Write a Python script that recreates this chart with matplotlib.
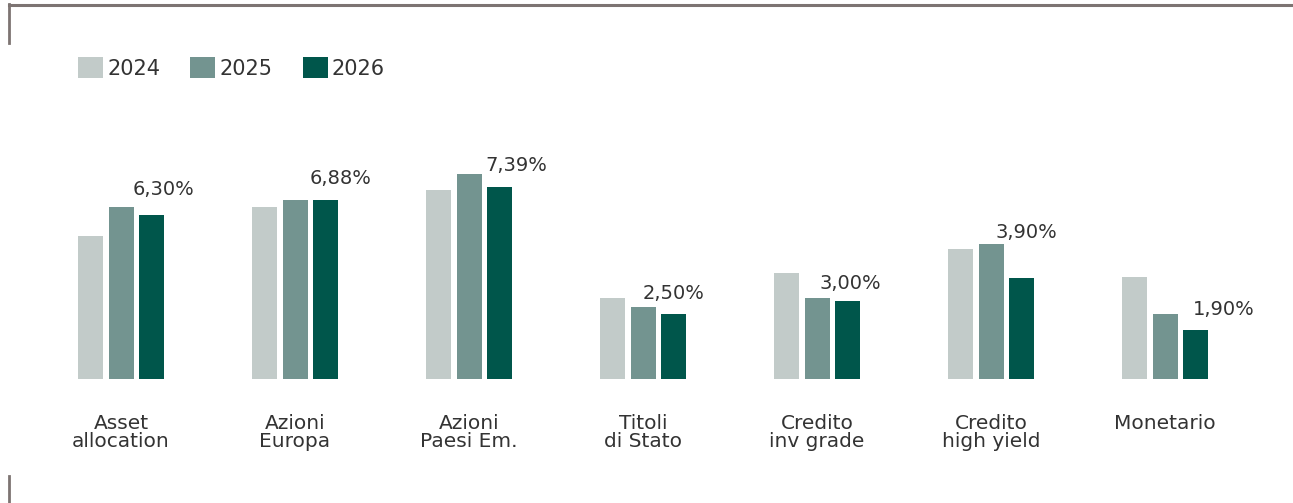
import matplotlib.pyplot as plt
from matplotlib.patches import Patch
from matplotlib.lines import Line2D

categories = ['Asset\nallocation', 'Azioni\nEuropa', 'Azioni\nPaesi Em.', 'Titoli\ndi Stato',
              'Credito\ninv grade', 'Credito\nhigh yield', 'Monetario']
years = ['2024', '2025', '2026']
v2024 = [5.50, 6.62, 7.27, 3.12, 4.08, 5.00, 3.92]
v2025 = [6.62, 6.88, 7.88, 2.77, 3.12, 5.19, 2.50]
v2026 = [6.30, 6.88, 7.39, 2.50, 3.00, 3.90, 1.90]
labels_2026 = ['6,30%', '6,88%', '7,39%', '2,50%', '3,00%', '3,90%', '1,90%']

colors = ['#c2cbc9', '#739490', '#00564b']
txt = '#333333'
# label offsets (px): shift right of 2026 bar centre, gap above bar top
lab_dx = [11.5, 15, 17, 0, 2.5, 5, 28]
lab_dy = [20, 16, 16, 15, 12, 40, 15]

plt.rcParams['font.family'] = ['DejaVu Sans']

W, H = 1293, 503
fig = plt.figure(figsize=(W / 100, H / 100), dpi=100)
ax = fig.add_axes([0, 0, 1, 1])

gs = 174.0          # px per group
ppv = 26.0          # px per 1%
x0 = 121.0          # px of first group centre
base = H - 379.0    # px of baseline from bottom
ax.set_xlim(-x0 / gs, (W - x0) / gs)
ax.set_ylim(-base / ppv, (H - base) / ppv)
ax.axis('off')

bw = 25 / gs
off = 30.5 / gs
xs = list(range(len(categories)))
for k, vals in enumerate([v2024, v2025, v2026]):
    ax.bar([x + (k - 1) * off for x in xs], vals, width=bw, color=colors[k], label=years[k])

pt = 0.72  # px -> points
for i, x in enumerate(xs):
    ax.annotate(labels_2026[i], (x + off, v2026[i]), xytext=(lab_dx[i] * pt, lab_dy[i] * pt),
                textcoords='offset points', ha='center', va='baseline', fontsize=14, color=txt)
    ax.annotate(categories[i], (x, 0), xytext=(0, -35 * pt), textcoords='offset points',
                ha='center', va='top', fontsize=14.5, color=txt, linespacing=0.95)

handles = [Patch(facecolor=c, edgecolor='none') for c in colors]
leg = fig.legend(handles, years, loc='upper left', bbox_to_anchor=(78 / W, 1 - 57 / H),
                 ncol=3, frameon=False, fontsize=15, handlelength=1.2, handleheight=1.2,
                 handletextpad=0.2, columnspacing=1.45, borderpad=0, borderaxespad=0)
for t in leg.get_texts():
    t.set_color(txt)

# frame lines
fc = '#7d7472'
fig.add_artist(Line2D([8.5 / W, 1], [1 - 5 / H, 1 - 5 / H], color=fc, lw=2.2, transform=fig.transFigure))
fig.add_artist(Line2D([8.5 / W, 8.5 / W], [1 - 4 / H, 1 - 43 / H], color=fc, lw=2.0, transform=fig.transFigure))
fig.add_artist(Line2D([8.5 / W, 8.5 / W], [1 - 476 / H, 0], color=fc, lw=2.0, transform=fig.transFigure))

fig.savefig('out.png', dpi=100)
